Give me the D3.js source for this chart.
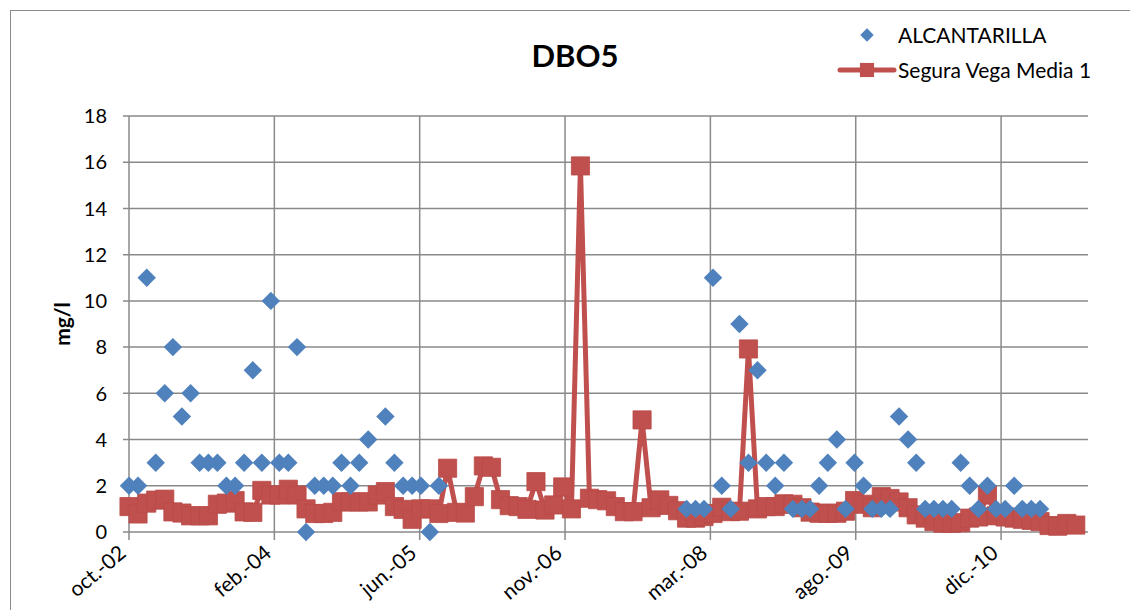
<!DOCTYPE html>
<html><head><meta charset="utf-8">
<script src="https://cdn.jsdelivr.net/npm/d3@7"></script>
<style>
body{margin:0;background:#fff}
svg{display:block}
text{font-family:Lato,'Noto Sans',sans-serif;fill:#000}
</style>
</head><body>
<svg id="chart" width="1130" height="610"></svg>
<script>
// ---------- data ----------
const months = [
 "2002-10-01","2002-11-01","2002-12-01",
 "2003-01-01","2003-02-01","2003-03-01","2003-04-01","2003-05-01","2003-06-01","2003-07-01","2003-08-01","2003-09-01","2003-10-01","2003-11-01","2003-12-01",
 "2004-01-01","2004-02-01","2004-03-01","2004-04-01","2004-05-01","2004-06-01","2004-07-01","2004-08-01","2004-09-01","2004-10-01","2004-11-01","2004-12-01",
 "2005-01-01","2005-02-01","2005-03-01","2005-04-01","2005-05-01","2005-06-01","2005-07-01","2005-08-01","2005-09-01","2005-10-01","2005-11-01","2005-12-01",
 "2006-01-01","2006-02-01","2006-03-01","2006-04-01","2006-05-01","2006-06-01","2006-07-01","2006-08-01","2006-09-01","2006-10-01","2006-11-01","2006-12-01",
 "2007-01-01","2007-02-01","2007-03-01","2007-04-01","2007-05-01","2007-06-01","2007-07-01","2007-08-01","2007-09-01","2007-10-01","2007-11-01","2007-12-01",
 "2008-01-01","2008-02-01","2008-03-01","2008-04-01","2008-05-01","2008-06-01","2008-07-01","2008-08-01","2008-09-01","2008-10-01","2008-11-01","2008-12-01",
 "2009-01-01","2009-02-01","2009-03-01","2009-04-01","2009-05-01","2009-06-01","2009-07-01","2009-08-01","2009-09-01","2009-10-01","2009-11-01","2009-12-01",
 "2010-01-01","2010-02-01","2010-03-01","2010-04-01","2010-05-01","2010-06-01","2010-07-01","2010-08-01","2010-09-01","2010-10-01","2010-11-01","2010-12-01",
 "2011-01-01","2011-02-01","2011-03-01","2011-04-01","2011-05-01","2011-06-01","2011-07-01","2011-08-01","2011-09-01"
];

const alcantarilla = [
 2,2,11,
 3,6,8,5,6,3,3,3,2,2,3,7,
 3,10,3,3,8,0,2,2,2,3,2,3,
 4,null,5,3,2,2,2,0,2,null,null,null,
 null,null,null,null,null,null,null,null,null,null,null,null,
 null,null,null,null,null,null,null,null,null,null,null,null,
 1,1,1,11,2,1,9,3,7,3,2,3,
 1,1,1,2,3,4,1,3,2,1,1,1,
 5,4,3,1,1,1,1,3,2,1,2,1,
 1,2,1,1,1,null,null,null,null
];

const segura = [
 1.1,0.78,1.25,
 1.38,1.42,0.87,0.82,0.7,0.7,0.7,1.2,1.25,1.36,0.87,0.85,
 1.8,1.6,1.6,1.85,1.6,1.0,0.8,0.8,0.85,1.31,1.3,1.3,
 1.3,1.6,1.75,1.1,0.98,0.55,1.0,1.0,0.8,2.76,0.85,0.82,
 1.53,2.86,2.8,1.4,1.14,1.1,0.98,2.18,0.95,1.17,1.95,1.0,
 15.84,1.46,1.4,1.35,1.1,0.88,0.88,4.85,1.05,1.39,1.15,0.92,
 0.6,0.6,0.67,0.8,1.07,0.88,0.9,7.92,1.0,1.1,1.1,1.22,
 1.2,1.05,0.86,0.81,0.81,0.81,0.9,1.36,1.2,1.05,1.53,1.45,
 1.3,1.05,0.74,0.6,0.45,0.38,0.38,0.4,0.6,0.65,1.6,0.7,
 0.65,0.6,0.55,0.5,0.45,0.28,0.25,0.37,0.3
];

const axisRange = ["2002-10-01","2011-10-13"];
const xTickDates = ["2002-10-01","2004-02-13","2005-06-27","2006-11-09","2008-03-23","2009-08-05","2010-12-18"];
const xTickLabels = ["oct.-02","feb.-04","jun.-05","nov.-06","mar.-08","ago.-09","dic.-10"];
const yTicks = [0,2,4,6,8,10,12,14,16,18];
const seriesNames = ["ALCANTARILLA","Segura Vega Media 1"];
const title = "DBO5";
const yTitle = "mg/l";

// ---------- drawing ----------
const BLUE = "#4F81BD", RED = "#C0504D", GRID = "#8a8a8a";
const svg = d3.select("#chart");
const L = 129, R = 1088, T = 116, B = 532;
const parse = d3.utcParse("%Y-%m-%d");

const x = d3.scaleUtc().domain(axisRange.map(parse)).range([L, R]);
const y = d3.scaleLinear().domain([0, 18]).range([B, T]);

// chart area border
svg.append("rect").attr("x", 10.5).attr("y", 10.5).attr("width", 1140).attr("height", 640)
  .attr("fill", "none").attr("stroke", "#8a8a8a").attr("stroke-width", 1);

// horizontal grid
svg.append("g").selectAll("line").data(yTicks).join("line")
  .attr("x1", L - 6).attr("x2", R).attr("y1", d => y(d)).attr("y2", d => y(d))
  .attr("stroke", GRID).attr("stroke-width", 1.5);

// vertical grid
const xt = xTickDates.map(parse);
svg.append("g").selectAll("line").data(xt).join("line")
  .attr("x1", d => x(d)).attr("x2", d => x(d)).attr("y1", T).attr("y2", B + 8)
  .attr("stroke", GRID).attr("stroke-width", 1.5);

// y axis labels
svg.append("g").selectAll("text").data(yTicks).join("text")
  .attr("x", L - 22).attr("y", d => y(d)).attr("dy", "0.36em")
  .attr("text-anchor", "end").attr("font-size", 20).text(d => d);

// x axis labels
svg.append("g").selectAll("text").data(xt).join("text")
  .attr("text-anchor", "end").attr("font-size", 21)
  .attr("transform", d => `translate(${x(d) - 11},${B + 12}) rotate(-40)`)
  .attr("dy", "0.7em")
  .text((d, i) => xTickLabels[i]);

// y title
svg.append("text").attr("transform", `translate(70,${(T + B) / 2}) rotate(-90)`)
  .attr("text-anchor", "middle").attr("font-size", 21).attr("font-weight", "bold").text(yTitle);

// title
svg.append("text").attr("x", 575).attr("y", 67).attr("text-anchor", "middle")
  .attr("font-size", 31).attr("font-weight", "bold").text(title);

// red series
const redData = months.map((m, i) => ({ d: parse(m), v: segura[i] })).filter(p => p.v != null);
svg.append("path").datum(redData)
  .attr("fill", "none").attr("stroke", RED).attr("stroke-width", 5).attr("stroke-linejoin", "round")
  .attr("d", d3.line().x(p => x(p.d)).y(p => y(p.v)));
const sq = d3.symbol(d3.symbolSquare, 330);
svg.append("g").selectAll("path").data(redData).join("path")
  .attr("d", sq).attr("transform", p => `translate(${x(p.d)},${y(p.v)})`)
  .attr("fill", RED).attr("stroke", "#b94a47").attr("stroke-width", 0.8);

// blue series
const blueData = months.map((m, i) => ({ d: parse(m), v: alcantarilla[i] })).filter(p => p.v != null);
const dm = d3.symbol(d3.symbolSquare, 170);
svg.append("g").selectAll("path").data(blueData).join("path")
  .attr("d", dm).attr("transform", p => `translate(${x(p.d)},${y(p.v)}) rotate(45)`)
  .attr("fill", BLUE);

// legend
const lg = svg.append("g");
lg.append("path").attr("d", d3.symbol(d3.symbolSquare, 90)).attr("transform", "translate(867,35) rotate(45)").attr("fill", BLUE);
lg.append("text").attr("x", 898).attr("y", 35).attr("dy", "0.36em").attr("font-size", 21).text(seriesNames[0]);
lg.append("line").attr("x1", 840).attr("x2", 894).attr("y1", 70).attr("y2", 70).attr("stroke", RED).attr("stroke-width", 5).attr("stroke-linecap", "round");
lg.append("path").attr("d", d3.symbol(d3.symbolSquare, 200)).attr("transform", "translate(867,70)").attr("fill", RED);
lg.append("text").attr("x", 898).attr("y", 70).attr("dy", "0.36em").attr("font-size", 21).text(seriesNames[1]);
</script>
</body></html>
